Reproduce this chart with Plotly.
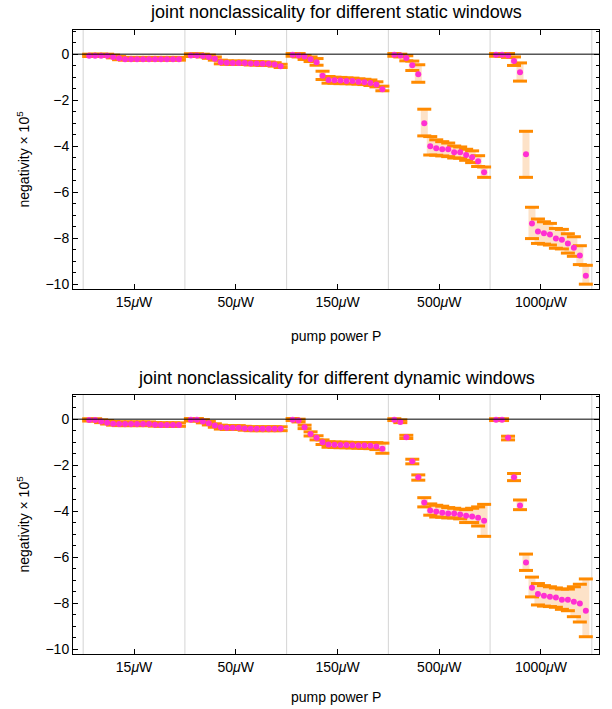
import plotly.graph_objects as go

# ---------------- data ----------------
groups = ["15<i>μ</i>W", "50<i>μ</i>W", "150<i>μ</i>W", "500<i>μ</i>W", "1000<i>μ</i>W"]
n_per_group = 16
group_span = 17

# static windows: value, upper, lower (per group, 16 points each)
static_val = [
    [-0.07, -0.07, -0.07, -0.07, -0.12, -0.18, -0.22, -0.22, -0.22, -0.22, -0.22, -0.22, -0.22, -0.22, -0.22, -0.22],
    [-0.06, -0.06, -0.08, -0.12, -0.2, -0.35, -0.37, -0.38, -0.38, -0.38, -0.4, -0.4, -0.42, -0.42, -0.45, -0.52],
    [-0.03, -0.06, -0.1, -0.22, -0.35, -0.94, -1.12, -1.13, -1.14, -1.16, -1.17, -1.2, -1.22, -1.25, -1.32, -1.52],
    [-0.03, -0.06, -0.17, -0.48, -0.87, -3.0, -4.0, -4.09, -4.13, -4.13, -4.26, -4.26, -4.38, -4.48, -4.65, -5.13],
    [-0.03, -0.03, -0.06, -0.3, -0.78, -4.35, -7.35, -7.7, -7.78, -7.83, -8.01, -8.06, -8.22, -8.41, -8.74, -9.62],
]
static_hi = [
    [0.0, 0.0, 0.0, 0.0, -0.04, -0.1, -0.14, -0.14, -0.14, -0.14, -0.14, -0.14, -0.14, -0.14, -0.14, -0.14],
    [0.02, 0.02, 0.0, -0.04, -0.12, -0.26, -0.29, -0.3, -0.3, -0.3, -0.32, -0.32, -0.34, -0.34, -0.37, -0.44],
    [0.03, 0.03, -0.06, -0.12, -0.19, -0.74, -0.97, -1.0, -1.01, -1.03, -1.04, -1.07, -1.09, -1.12, -1.2, -1.39],
    [0.03, 0.0, -0.07, -0.3, -0.46, -2.39, -3.58, -3.72, -3.8, -3.86, -3.99, -4.03, -4.13, -4.2, -4.41, -4.9],
    [0.03, 0.03, 0.03, -0.12, -0.38, -3.35, -6.65, -7.16, -7.28, -7.35, -7.57, -7.61, -7.8, -7.93, -8.32, -9.17],
]
static_lo = [
    [-0.1, -0.1, -0.1, -0.1, -0.16, -0.24, -0.26, -0.26, -0.26, -0.26, -0.26, -0.26, -0.26, -0.26, -0.26, -0.26],
    [-0.1, -0.1, -0.12, -0.18, -0.26, -0.42, -0.44, -0.45, -0.45, -0.45, -0.47, -0.47, -0.49, -0.49, -0.52, -0.58],
    [-0.09, -0.12, -0.23, -0.32, -0.48, -1.1, -1.26, -1.26, -1.28, -1.28, -1.29, -1.3, -1.32, -1.36, -1.42, -1.59],
    [-0.09, -0.12, -0.29, -0.71, -1.22, -3.55, -4.38, -4.39, -4.42, -4.45, -4.51, -4.52, -4.61, -4.71, -4.88, -5.35],
    [-0.09, -0.09, -0.14, -0.49, -1.17, -5.35, -8.01, -8.22, -8.25, -8.29, -8.43, -8.46, -8.64, -8.78, -9.14, -9.99],
]

# dynamic windows
dynamic_val = [
    [-0.04, -0.04, -0.1, -0.15, -0.2, -0.21, -0.21, -0.21, -0.21, -0.21, -0.21, -0.24, -0.25, -0.25, -0.25, -0.25],
    [-0.03, -0.03, -0.1, -0.18, -0.28, -0.35, -0.37, -0.37, -0.37, -0.4, -0.42, -0.42, -0.42, -0.42, -0.42, -0.42],
    [-0.02, -0.06, -0.35, -0.64, -0.81, -1.0, -1.1, -1.11, -1.12, -1.12, -1.13, -1.14, -1.14, -1.15, -1.19, -1.28],
    [-0.02, -0.12, -0.78, -1.83, -2.52, -3.62, -3.97, -4.01, -4.06, -4.1, -4.1, -4.14, -4.19, -4.23, -4.28, -4.41],
    [-0.02, -0.02, -0.81, -2.52, -3.75, -6.23, -7.32, -7.59, -7.67, -7.71, -7.75, -7.84, -7.84, -7.93, -8.01, -8.32],
]
dynamic_hi = [
    [0.02, 0.02, -0.03, -0.06, -0.1, -0.12, -0.12, -0.12, -0.12, -0.12, -0.12, -0.15, -0.16, -0.16, -0.16, -0.16],
    [0.03, 0.03, -0.02, -0.1, -0.2, -0.26, -0.28, -0.28, -0.28, -0.31, -0.33, -0.33, -0.33, -0.33, -0.33, -0.33],
    [0.03, 0.0, -0.26, -0.55, -0.72, -0.9, -0.98, -0.99, -1.0, -1.0, -1.01, -1.02, -1.02, -1.02, -1.02, -1.04],
    [0.02, -0.03, -0.7, -1.74, -2.42, -3.41, -3.68, -3.74, -3.78, -3.84, -3.87, -3.91, -3.93, -3.87, -3.81, -3.7],
    [0.02, 0.02, -0.74, -2.36, -3.51, -5.86, -6.86, -7.14, -7.23, -7.28, -7.33, -7.38, -7.38, -7.28, -7.17, -6.94],
]
dynamic_lo = [
    [-0.08, -0.08, -0.15, -0.21, -0.26, -0.28, -0.28, -0.28, -0.28, -0.28, -0.28, -0.3, -0.31, -0.31, -0.31, -0.31],
    [-0.08, -0.08, -0.16, -0.25, -0.35, -0.43, -0.45, -0.45, -0.45, -0.48, -0.5, -0.5, -0.5, -0.5, -0.5, -0.5],
    [-0.06, -0.12, -0.41, -0.73, -0.9, -1.1, -1.22, -1.23, -1.24, -1.24, -1.25, -1.26, -1.27, -1.28, -1.32, -1.48],
    [-0.06, -0.15, -0.84, -1.94, -2.65, -3.81, -4.17, -4.25, -4.26, -4.29, -4.29, -4.33, -4.49, -4.49, -4.64, -5.09],
    [-0.06, -0.06, -0.9, -2.67, -3.93, -6.57, -7.72, -8.07, -8.12, -8.14, -8.17, -8.26, -8.32, -8.58, -8.81, -9.45],
]

titles = ["joint nonclassicality for different static windows",
          "joint nonclassicality for different dynamic windows"]
y_ticks = [0, -2, -4, -6, -8, -10]

# ---------------- style ----------------
FONT = "Liberation Sans, Arial, sans-serif"
ORANGE = "#FF8A00"
BAND = "#FDE2C8"
MAGENTA = "#FF2FD2"
SEP = "#D4D4D4"

W, H = 612, 709
ML, MR, MT, MB = 73, 13, 30, 55
plot_h = H - MT - MB


def py(px):
    return (H - MB - px) / plot_h


fig = go.Figure()

panels = [(static_val, static_hi, static_lo), (dynamic_val, dynamic_hi, dynamic_lo)]
for p, (vals, his, los) in enumerate(panels):
    xs, v, hi, lo = [], [], [], []
    for g in range(len(groups)):
        for i in range(n_per_group):
            xs.append(g * group_span + i + 1)
            v.append(vals[g][i])
            hi.append(his[g][i])
            lo.append(los[g][i])
    yax = "y" if p == 0 else "y2"
    xax = "x" if p == 0 else "x2"
    # shaded band
    fig.add_trace(go.Scatter(
        x=xs, y=v, mode="markers", marker=dict(size=1, opacity=0),
        error_y=dict(type="data", symmetric=False,
                     array=[h - a for h, a in zip(hi, v)],
                     arrayminus=[a - l for l, a in zip(lo, v)],
                     color=BAND, thickness=7, width=0),
        xaxis=xax, yaxis=yax, showlegend=False, hoverinfo="skip"))
    # caps
    fig.add_trace(go.Scatter(
        x=xs + xs, y=hi + lo, mode="markers",
        marker=dict(symbol="line-ew", size=10, line=dict(width=3, color=ORANGE), color=ORANGE),
        xaxis=xax, yaxis=yax, showlegend=False, hoverinfo="skip"))
    # points
    fig.add_trace(go.Scatter(
        x=xs, y=v, mode="markers",
        marker=dict(size=6, color=MAGENTA),
        xaxis=xax, yaxis=yax, showlegend=False))

x_range = [-1.7, len(groups) * group_span + 1.2]
tickvals = [g * group_span + group_span / 2 for g in range(len(groups))]

axis_common = dict(
    showline=True, linecolor="black", linewidth=1, mirror="ticks",
    ticks="inside", tickcolor="black", ticklen=5, tickwidth=1,
    showgrid=False, zeroline=False,
    tickfont=dict(family=FONT, size=14, color="black"),
)

fig.update_layout(
    width=W, height=H,
    margin=dict(l=ML, r=MR, t=MT, b=MB),
    plot_bgcolor="white", paper_bgcolor="white",
    font=dict(family=FONT, color="black"),
    xaxis=dict(domain=[0, 1], range=x_range, tickvals=tickvals, ticktext=groups,
               anchor="y", **axis_common),
    yaxis=dict(domain=[py(289), 1], range=[-10.2, 1.05], tickvals=y_ticks,
               minor=dict(dtick=0.5, ticks="inside", ticklen=3, tickcolor="black"),
               anchor="x", **axis_common),
    xaxis2=dict(domain=[0, 1], range=x_range, tickvals=tickvals, ticktext=groups,
                anchor="y2", **axis_common),
    yaxis2=dict(domain=[0, py(395)], range=[-10.2, 1.05], tickvals=y_ticks,
                minor=dict(dtick=0.5, ticks="inside", ticklen=3, tickcolor="black"),
                anchor="x2", **axis_common),
)

shapes = []
for xr, yr in [("x", "y"), ("x2", "y2")]:
    for g in range(len(groups) + 1):
        shapes.append(dict(type="line", xref=xr, yref=yr + " domain",
                           x0=g * group_span, x1=g * group_span, y0=0, y1=1,
                           line=dict(color=SEP, width=1), layer="below"))
    shapes.append(dict(type="line", xref=xr + " domain", yref=yr, x0=0, x1=1, y0=0, y1=0,
                       line=dict(color="black", width=1), layer="above"))
fig.update_layout(shapes=shapes)

ann = []
for title, ty, ly, yc in [(titles[0], 12, 336, (30 + 289) / 2), (titles[1], 378, 697, (395 + 654) / 2)]:
    ann.append(dict(text=title, x=0.5, y=py(ty), xref="paper", yref="paper",
                    showarrow=False, xanchor="center", yanchor="middle",
                    font=dict(family=FONT, size=18, color="black")))
    ann.append(dict(text="pump power P", x=0.5, y=py(ly), xref="paper", yref="paper",
                    showarrow=False, xanchor="center", yanchor="middle",
                    font=dict(family=FONT, size=14, color="black")))
    ann.append(dict(text="negativity × 10<sup>5</sup>", x=(23 - ML) / (W - ML - MR), y=py(yc),
                    xref="paper", yref="paper", textangle=-90,
                    showarrow=False, xanchor="center", yanchor="middle",
                    font=dict(family=FONT, size=14, color="black")))
fig.update_layout(annotations=ann)

fig.write_html("out.html", config={"displayModeBar": False},
               post_script="document.body.style.margin='0';document.body.style.overflow='hidden';")
